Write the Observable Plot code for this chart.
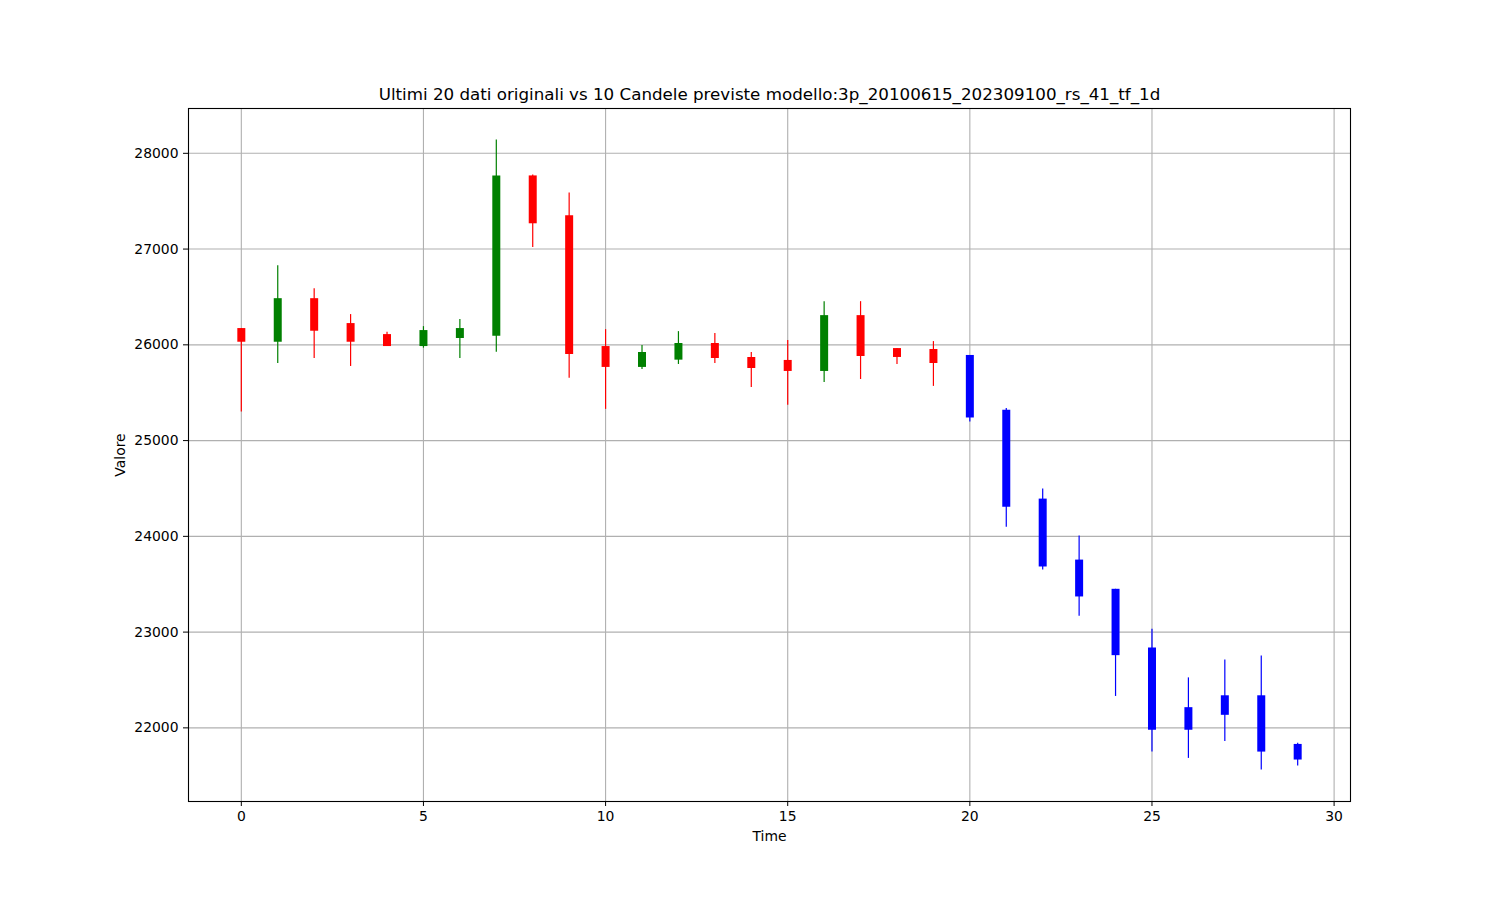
<!DOCTYPE html>
<html>
<head>
<meta charset="utf-8">
<script src="https://cdn.jsdelivr.net/npm/d3@7"></script>
<script src="https://cdn.jsdelivr.net/npm/@observablehq/plot@0.6"></script>
<style>
  html, body { margin: 0; padding: 0; background: white; }
  #chart { width: 1500px; height: 900px; }
</style>
</head>
<body>
<div id="chart"></div>
<script>
const time  = [0,1,2,3,4,5,6,7,8,9,10,11,12,13,14,15,16,17,18,19,20,21,22,23,24,25,26,27,28,29];
const open  = [26170,26027,26482,26222,26107,25982,26066,26090,27764,27347,25982,25764,25840,26014,25868,25837,25722,26305,25961,25951,25889,25316,24389,23752,23447,22834,22211,22335,22335,21827];
const close = [26027,26482,26142,26027,25982,26149,26170,27764,27264,25899,25764,25920,26014,25857,25753,25722,26305,25878,25868,25805,25236,24305,23680,23367,22754,21975,21975,22131,21747,21664];
const high  = [26170,26826,26586,26316,26131,26190,26264,28139,27774,27586,26159,25993,26138,26118,25920,26045,26451,26451,25961,26034,25889,25336,24494,24003,23447,23031,22522,22709,22751,21840];
const low   = [25298,25805,25857,25774,25982,25965,25857,25923,27017,25652,25326,25743,25795,25805,25555,25368,25607,25638,25795,25566,25194,24096,23649,23166,22328,21747,21681,21858,21560,21601];
const nOriginal = 20;
const xTicks = [0,5,10,15,20,25,30];
const yTicks = [22000,23000,24000,25000,26000,27000,28000];
const titleText = "Ultimi 20 dati originali vs 10 Candele previste modello:3p_20100615_202309100_rs_41_tf_1d";

const data = time.map((t, i) => ({
  t, open: open[i], close: close[i], high: high[i], low: low[i],
  color: i >= nOriginal ? "blue" : (close[i] > open[i] ? "green" : "red")
}));

const chart = Plot.plot({
  width: 1500,
  height: 900,
  marginLeft: 188,
  marginRight: 150,
  marginTop: 108,
  marginBottom: 99,
  style: { fontFamily: "DejaVu Sans", fontSize: "13.9px", color: "black", background: "white", overflow: "visible" },
  x: { type: "linear", domain: [-1.45, 30.45] },
  y: { type: "linear", domain: [21231, 28468] },
  marks: [
    Plot.gridX(xTicks, { stroke: "#b0b0b0", strokeOpacity: 1, strokeWidth: 1.1 }),
    Plot.gridY(yTicks, { stroke: "#b0b0b0", strokeOpacity: 1, strokeWidth: 1.1 }),
    Plot.ruleX(data, { x: "t", y1: "low", y2: "high", stroke: "color", strokeWidth: 1.2 }),
    Plot.ruleX(data, { x: "t", y1: "open", y2: "close", stroke: "color", strokeWidth: 8 }),
    Plot.frame({ stroke: "black", strokeWidth: 1.1 }),
    Plot.axisX(xTicks, { tickSize: 5, tickPadding: 5, label: null, fontSize: 13.9, tickFormat: "d" }),
    Plot.axisY(yTicks, { tickSize: 5, tickPadding: 5, label: null, fontSize: 13.9, tickFormat: "d" }),
    Plot.text([titleText], { frameAnchor: "top", dy: -14, textAnchor: "middle", lineAnchor: "middle", fontSize: 16.7, fill: "black" }),
    Plot.text(["Time"], { frameAnchor: "bottom", dy: 35, textAnchor: "middle", lineAnchor: "middle", fontSize: 13.9, fill: "black" }),
    Plot.text(["Valore"], { frameAnchor: "left", dx: -68, rotate: -90, textAnchor: "middle", lineAnchor: "middle", fontSize: 13.9, fill: "black" })
  ]
});
document.getElementById("chart").appendChild(chart);
</script>
</body>
</html>
